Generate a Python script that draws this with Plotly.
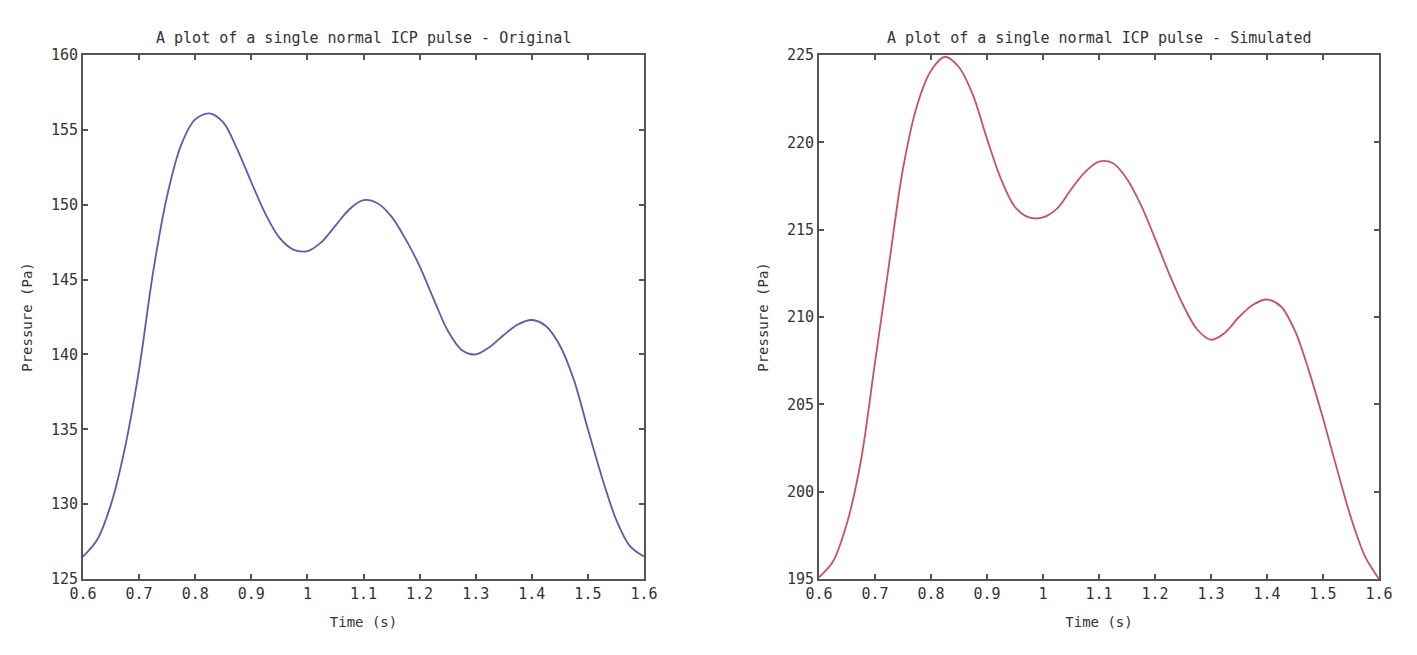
import plotly.graph_objects as go

# Time samples (s)
t_grid = [0.600, 0.625, 0.650, 0.675, 0.700, 0.725, 0.750, 0.775, 0.800, 0.825,
          0.850, 0.875, 0.900, 0.925, 0.950, 0.975, 1.000, 1.025, 1.050, 1.075,
          1.100, 1.125, 1.150, 1.175, 1.200, 1.225, 1.250, 1.275, 1.300, 1.325,
          1.350, 1.375, 1.400, 1.425, 1.450, 1.475, 1.500, 1.525, 1.550, 1.575, 1.600]

# Original pulse pressure (Pa)
p_orig = [126.5, 127.6, 130.0, 133.8, 139.0, 145.5, 150.6, 154.0, 155.7, 156.1,
          155.5, 153.7, 151.5, 149.4, 147.8, 147.0, 146.9, 147.5, 148.6, 149.7,
          150.3, 150.1, 149.2, 147.7, 145.9, 143.7, 141.6, 140.3, 140.0, 140.5,
          141.3, 142.0, 142.3, 141.9, 140.6, 138.3, 135.0, 131.8, 129.0, 127.2, 126.5]

# Simulated pulse pressure (Pa)
p_sim = [195.1, 196.0, 198.2, 201.8, 207.4, 213.0, 218.5, 222.1, 224.1, 224.9,
         224.3, 222.7, 220.2, 217.9, 216.3, 215.7, 215.7, 216.2, 217.3, 218.3,
         218.9, 218.8, 217.9, 216.4, 214.5, 212.5, 210.7, 209.3, 208.7, 209.1,
         210.0, 210.7, 211.0, 210.6, 209.2, 206.9, 204.2, 201.3, 198.5, 196.3, 195.0]

x_ticks = [0.6, 0.7, 0.8, 0.9, 1.0, 1.1, 1.2, 1.3, 1.4, 1.5, 1.6]
x_tick_text = ["0.6", "0.7", "0.8", "0.9", "1", "1.1", "1.2", "1.3", "1.4", "1.5", "1.6"]
y_ticks_orig = [125, 130, 135, 140, 145, 150, 155, 160]
y_ticks_sim = [195, 200, 205, 210, 215, 220, 225]

FONT = "DejaVu Sans Mono"
AX = "#555555"
TXT = "#333333"

fig = go.Figure()
fig.add_trace(go.Scatter(x=t_grid, y=p_orig, mode="lines",
                         line=dict(color="#5b5bb0", width=1.8, shape="spline", smoothing=0.9),
                         xaxis="x", yaxis="y", showlegend=False))
fig.add_trace(go.Scatter(x=t_grid, y=p_sim, mode="lines",
                         line=dict(color="#c45560", width=1.8, shape="spline", smoothing=0.9),
                         xaxis="x2", yaxis="y2", showlegend=False))

W, H = 1417, 655
def dx(px): return px / W
def dy(py): return 1 - py / H

common_x = dict(range=[0.6, 1.6], tickvals=x_ticks, ticktext=x_tick_text,
                ticks="inside", ticklen=5, tickcolor=AX, tickwidth=1.5,
                showline=True, linecolor=AX, linewidth=2, mirror="ticks",
                showgrid=False, zeroline=False, automargin=False,
                tickfont=dict(family=FONT, size=15, color=TXT),
                title=dict(text="Time (s)", font=dict(family=FONT, size=14, color=TXT)))
common_y = dict(ticks="inside", ticklen=5, tickcolor=AX, tickwidth=1.5,
                showline=True, linecolor=AX, linewidth=2, mirror="ticks",
                showgrid=False, zeroline=False, automargin=False,
                tickfont=dict(family=FONT, size=15, color=TXT),
                title=dict(text="Pressure (Pa)", font=dict(family=FONT, size=14, color=TXT)))

fig.update_layout(
    width=W, height=H,
    margin=dict(l=0, r=0, t=0, b=0),
    paper_bgcolor="white", plot_bgcolor="white",
    xaxis=dict(domain=[dx(83), dx(644)], anchor="y", **common_x),
    yaxis=dict(domain=[dy(579), dy(55)], anchor="x", range=[125, 160], tickvals=y_ticks_orig, **common_y),
    xaxis2=dict(domain=[dx(819), dx(1379)], anchor="y2", **common_x),
    yaxis2=dict(domain=[dy(579), dy(55)], anchor="x2", range=[195, 225], tickvals=y_ticks_sim, **common_y),
    annotations=[
        dict(text="A plot of a single normal ICP pulse - Original", x=(dx(83) + dx(644)) / 2, y=dy(38),
             xref="paper", yref="paper", showarrow=False, xanchor="center", yanchor="middle",
             font=dict(family=FONT, size=15, color=TXT)),
        dict(text="A plot of a single normal ICP pulse - Simulated", x=(dx(819) + dx(1379)) / 2, y=dy(38),
             xref="paper", yref="paper", showarrow=False, xanchor="center", yanchor="middle",
             font=dict(family=FONT, size=15, color=TXT)),
    ],
)

fig.write_html("out.html")
